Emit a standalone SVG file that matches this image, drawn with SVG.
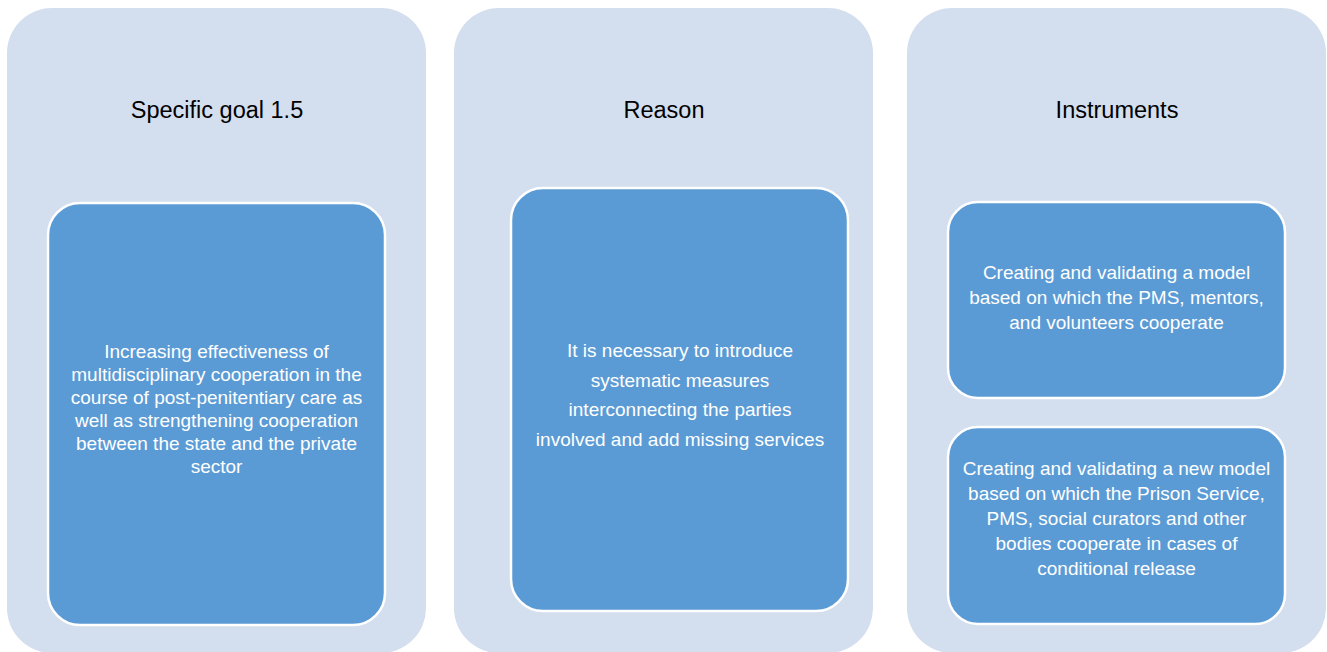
<svg xmlns="http://www.w3.org/2000/svg" width="1327" height="652" viewBox="0 0 1327 652">
  <style>
    .panel { fill: #D3DEEE; }
    .box { fill: #5B9BD5; stroke: #FFFFFF; stroke-width: 2.5; }
    .title { font-family: "Liberation Sans", Arial, sans-serif; font-size: 23.5px; fill: #000000; text-anchor: middle; }
    .body { font-family: "Liberation Sans", Arial, sans-serif; font-size: 19px; fill: #FFFFFF; text-anchor: middle; }
  </style>
  <rect width="1327" height="652" fill="#FFFFFF"/>

  <!-- Column 1: specific goal -->
  <g id="goal-panel">
    <rect class="panel" x="7" y="8" width="419" height="645" rx="45" ry="45"/>
    <text class="title" x="217" y="118">Specific goal 1.5</text>
  </g>
  <g id="goal-detail">
    <rect class="box" x="48" y="203" width="337" height="422" rx="32" ry="32"/>
    <text class="body" x="216.5" y="358">Increasing effectiveness of</text>
    <text class="body" x="216.5" y="381">multidisciplinary cooperation in the</text>
    <text class="body" x="216.5" y="404">course of post-penitentiary care as</text>
    <text class="body" x="216.5" y="427">well as strengthening cooperation</text>
    <text class="body" x="216.5" y="450">between the state and the private</text>
    <text class="body" x="216.5" y="473">sector</text>
  </g>

  <!-- Column 2: reason -->
  <g id="reason-panel">
    <rect class="panel" x="454" y="8" width="419" height="645" rx="45" ry="45"/>
    <text class="title" x="664" y="118">Reason</text>
  </g>
  <g id="reason-detail">
    <rect class="box" x="511" y="188" width="337" height="423" rx="32" ry="32"/>
    <text class="body" x="680" y="357">It is necessary to introduce</text>
    <text class="body" x="680" y="387">systematic measures</text>
    <text class="body" x="680" y="416">interconnecting the parties</text>
    <text class="body" x="680" y="446">involved and add missing services</text>
  </g>

  <!-- Column 3: instruments -->
  <g id="instruments-panel">
    <rect class="panel" x="907" y="8" width="419" height="645" rx="45" ry="45"/>
    <text class="title" x="1117" y="118">Instruments</text>
  </g>
  <g id="instrument-1">
    <rect class="box" x="948" y="202" width="337" height="196" rx="30" ry="30"/>
    <text class="body" x="1116.5" y="279">Creating and validating a model</text>
    <text class="body" x="1116.5" y="304">based on which the PMS, mentors,</text>
    <text class="body" x="1116.5" y="329">and volunteers cooperate</text>
  </g>
  <g id="instrument-2">
    <rect class="box" x="948" y="427" width="337" height="197" rx="30" ry="30"/>
    <text class="body" x="1116.5" y="475">Creating and validating a new model</text>
    <text class="body" x="1116.5" y="500">based on which the Prison Service,</text>
    <text class="body" x="1116.5" y="525">PMS, social curators and other</text>
    <text class="body" x="1116.5" y="550">bodies cooperate in cases of</text>
    <text class="body" x="1116.5" y="575">conditional release</text>
  </g>

  <!-- No connectors are drawn between the columns -->
  <g id="connectors"></g>
</svg>
